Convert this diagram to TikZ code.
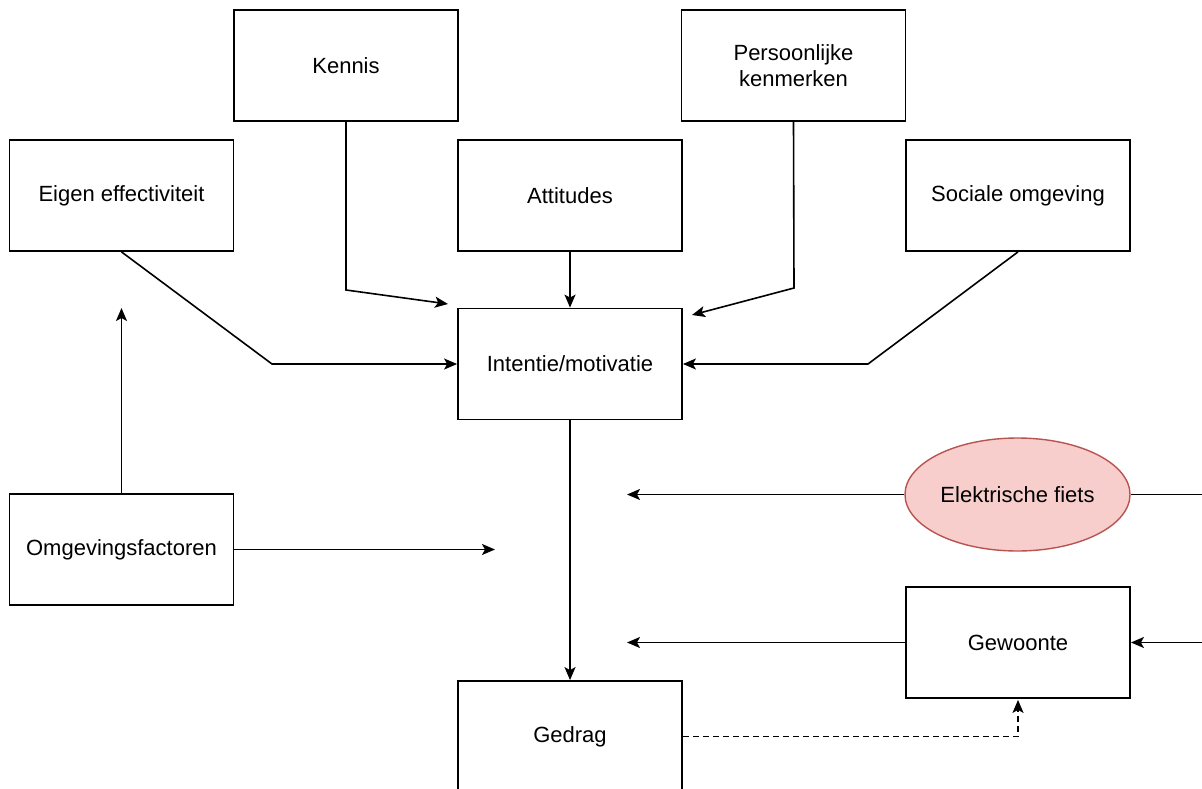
\documentclass[tikz,border=0pt]{standalone}
\usepackage{fontspec}
\setmainfont{Liberation Sans}
\usetikzlibrary{arrows.meta,shapes.geometric,calc}
\definecolor{pinkfill}{HTML}{F8CECC}
\definecolor{pinkline}{HTML}{B85450}
\tikzset{
  box/.style={draw=black, line width=1.8pt, rectangle, minimum width=224pt, minimum height=111pt, align=center, font=\fontsize{22}{26}\selectfont, inner sep=0pt},
  oval/.style={draw=pinkline, fill=pinkfill, line width=1.4pt, ellipse, minimum width=225pt, minimum height=113pt, inner sep=0pt, font=\fontsize{22}{26}\selectfont},
  conn/.style={line width=1.6pt},
  arr/.style={conn, -{Stealth[length=13pt,width=11pt,inset=3pt]}},
}
\begin{document}
\begin{tikzpicture}[x=1pt,y=1pt]
\useasboundingbox (0,0) rectangle (1202,-789);
\clip (0,0) rectangle (1202,-789);
\node[box] (kennis) at (346,-65.5) {Kennis};
\node[box] (pers) at (793.5,-65.5) {Persoonlijke\\kenmerken};
\node[box] (eigen) at (121.5,-195.5) {Eigen effectiviteit};
\node[box] (att) at (570,-195.5) {Attitudes};
\node[box] (soc) at (1018,-195.5) {Sociale omgeving};
\node[box] (int) at (570,-364) {Intentie/motivatie};
\node[box] (omg) at (121.5,-549.5) {Omgevingsfactoren};
\node[oval] (ef) at (1017.5,-494.5) {Elektrische fiets};
\node[box] (gew) at (1018,-642.5) {Gewoonte};
\node[box] (ged) at (570,-736.5) {Gedrag};

\coordinate (kb) at (346,-290);
\coordinate (ke) at (448,-304);
\coordinate (pb) at (794,-288);
\coordinate (pe) at (692,-315);
\coordinate (eb) at (272,-364);
\coordinate (sb) at (868,-364);
\coordinate (oe1) at (121.5,-308);
\coordinate (oe2) at (495,-549.5);
\coordinate (efe) at (627,-494.5);
\coordinate (efr) at (1202,-494.5);
\coordinate (gwe) at (627,-642.5);
\coordinate (gwr) at (1202,-642.5);

\draw[arr] (kennis.south) -- (kb) -- (ke);
\draw[arr] (att.south) -- (int.north);
\draw[arr] (pers.south) -- (pb) -- (pe);
\draw[arr] (eigen.south) -- (eb) -- (int.west);
\draw[arr] (soc.south) -- (sb) -- (int.east);
\draw[arr] (int.south) -- (ged.north);
\draw[arr] (omg.north) -- (oe1);
\draw[arr] (omg.east) -- (oe2);
\draw[arr] (ef.west) -- (efe);
\draw[conn] (efr) -- (ef.east);
\draw[arr] (gew.west) -- (gwe);
\draw[arr] (gwr) -- (gew.east);
\draw[arr, dash pattern=on 6pt off 4pt, shorten >=1pt] (ged.east) -| (gew.south);
\end{tikzpicture}
\end{document}
